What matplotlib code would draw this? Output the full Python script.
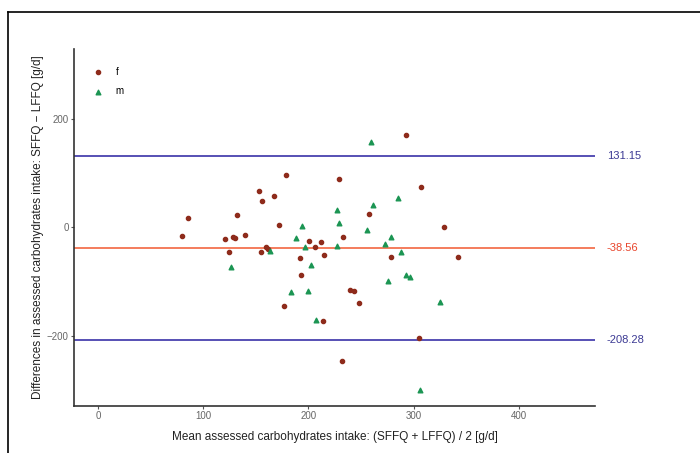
import matplotlib
matplotlib.use("agg")
import matplotlib.pyplot as plt
from matplotlib.lines import Line2D

plt.rcParams['font.family'] = ['Liberation Sans', 'DejaVu Sans']

# mean (x) and difference (y) per subject
f_mean = [80.2, 85.7, 120.9, 124.3, 128.6, 130.2, 132.5, 139.7, 153.1, 156.0,
          155.0, 160.2, 161.9, 167.8, 172.6, 178.7, 192.4, 193.5, 200.2, 206.0,
          212.5, 215.0, 229.3, 232.9, 257.9, 279.0, 176.6, 213.8, 240.0, 243.0,
          247.8, 232.0, 305.4, 292.9, 306.8, 329.3, 342.0]
f_diff = [-15.9, 17.3, -22.3, -45.9, -17.3, -20.1, 22.7, -14.6, 67.0, 49.4,
          -44.6, -35.4, -39.1, 57.9, 4.4, 96.7, -55.7, -87.8, -24.3, -35.4,
          -27.5, -50.2, 89.6, -17.0, 25.5, -54.2, -145.9, -173.6, -115.5, -117.9,
          -140.0, -246.6, -205.1, 170.4, 74.5, 1.5, -55.2]
m_mean = [126.5, 163.8, 187.9, 193.8, 196.7, 202.1, 227.3, 229.3, 227.1, 255.7,
          259.2, 261.4, 273.0, 278.4, 285.0, 288.5, 183.5, 199.8, 207.4, 275.4,
          292.4, 296.5, 325.5, 306.4]
m_diff = [-73.0, -43.7, -20.1, 3.0, -35.8, -70.3, 32.5, 8.5, -34.9, -5.3,
          157.9, 41.3, -30.6, -18.6, 54.6, -44.6, -118.8, -117.5, -171.9, -100.0,
          -87.8, -92.6, -137.6, -299.9]

mean_diff = -38.56
upper_loa = 131.15
lower_loa = -208.28

fig = plt.figure(figsize=(7, 4.53), dpi=100)
ax = fig.add_axes([0.106, 0.104, 0.744, 0.788])

ax.axhline(upper_loa, color="#5650b4", lw=1.4, zorder=1)
ax.axhline(lower_loa, color="#5650b4", lw=1.4, zorder=1)
ax.axhline(mean_diff, color="#f47c5c", lw=1.4, zorder=1)

ax.scatter(f_mean, f_diff, s=9, color="#8e2b1b", marker="o", label="f", zorder=3)
ax.scatter(m_mean, m_diff, s=11, color="#1b9553", marker="^", label="m", zorder=3)

# value labels to the right of the panel
tr = ax.get_yaxis_transform()
ax.text(1.023, upper_loa, "131.15", transform=tr, color="#3c3a94", fontsize=8,
        va="center", ha="left", clip_on=False)
ax.text(1.023, mean_diff, "-38.56", transform=tr, color="#e8452c", fontsize=8,
        va="center", ha="left", clip_on=False)
ax.text(1.023, lower_loa, "-208.28", transform=tr, color="#3c3a94", fontsize=8,
        va="center", ha="left", clip_on=False)

ax.set_xlim(-22.5, 472.5)
ax.set_ylim(-330, 330)
ax.set_xticks([0, 100, 200, 300, 400])
ax.set_yticks([-200, 0, 200])
ax.tick_params(colors="#555555", labelsize=7, length=2.5, width=0.8, pad=1.5)
ax.tick_params(axis="both", labelcolor="#666666")
for side in ["top", "right"]:
    ax.spines[side].set_visible(False)
for side in ["left", "bottom"]:
    ax.spines[side].set_color("#333333")
    ax.spines[side].set_linewidth(1.2)

ax.set_xlabel("Mean assessed carbohydrates intake: (SFFQ + LFFQ) / 2 [g/d]",
              fontsize=8.5, color="#222222", labelpad=7)
ax.set_ylabel("Differences in assessed carbohydrates intake: SFFQ \u2212 LFFQ [g/d]",
              fontsize=8.5, color="#222222", labelpad=2)

ax.legend(loc="upper left", bbox_to_anchor=(0.01, 0.975), frameon=False,
          fontsize=7, handletextpad=0.8, labelspacing=1.0, markerscale=1.0)

# outer frame (left and top edges visible in the crop)
fig.add_artist(Line2D([8 / 700, 8 / 700], [0, 1 - 12 / 453], color="black", lw=1.2,
                      transform=fig.transFigure))
fig.add_artist(Line2D([8 / 700, 1], [1 - 12 / 453, 1 - 12 / 453], color="black", lw=1.2,
                      transform=fig.transFigure))

fig.savefig("out.png", dpi=100)
